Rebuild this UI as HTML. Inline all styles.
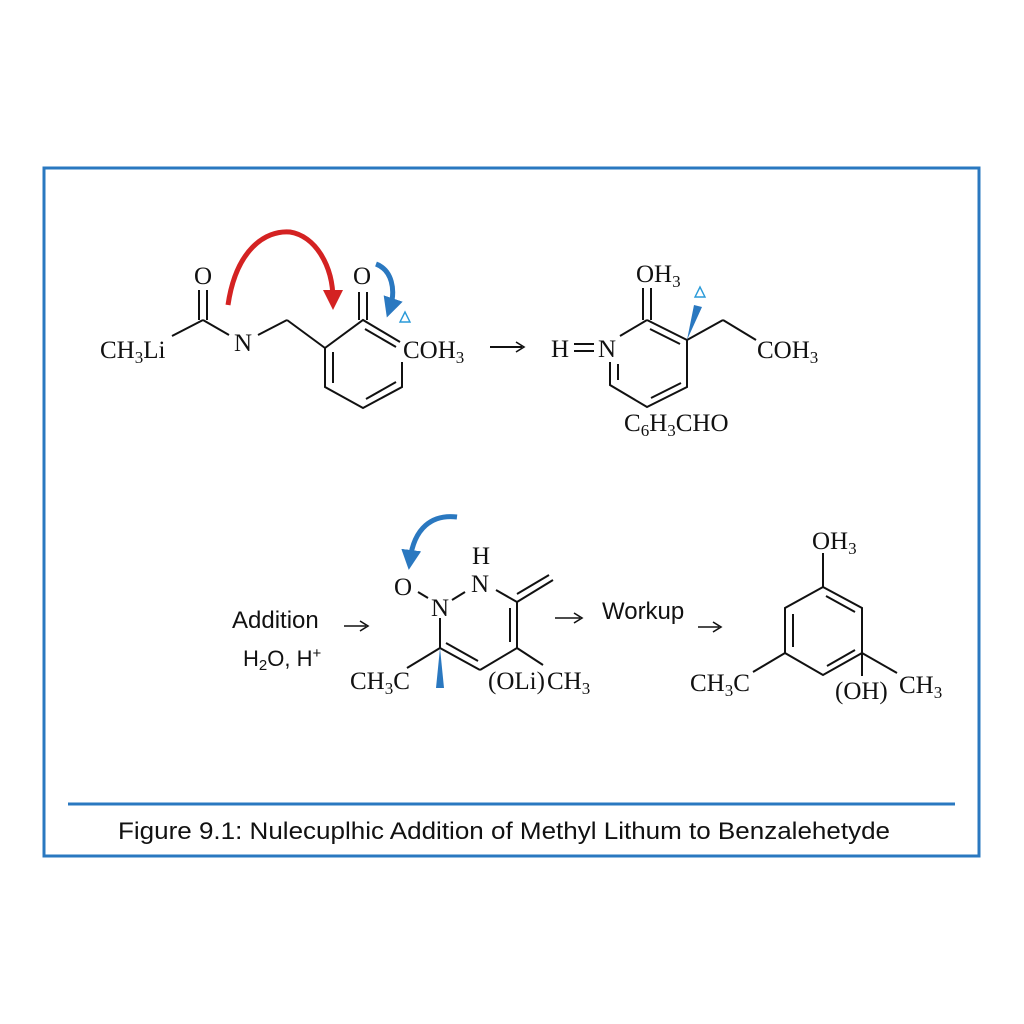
<!DOCTYPE html>
<html><head><meta charset="utf-8"><style>
html,body{margin:0;padding:0;background:#fff;}
svg{display:block}
.c{font-family:"Liberation Serif",serif;font-size:25px;fill:#111}
.s{font-size:17px}
.a{font-family:"Liberation Sans",sans-serif;font-size:24px;fill:#111}
</style></head><body>
<svg width="1024" height="1024" viewBox="0 0 1024 1024" xmlns="http://www.w3.org/2000/svg">
<defs>
<marker id="rh" viewBox="0 0 10 10" refX="5" refY="5" markerWidth="4" markerHeight="4" orient="auto"><path d="M0,0L10,5L0,10z" fill="#d42222"/></marker>
<marker id="bh" viewBox="0 0 10 10" refX="5" refY="5" markerWidth="4" markerHeight="4" orient="auto"><path d="M0,0L10,5L0,10z" fill="#2a78c0"/></marker>
</defs>
<rect x="44" y="168" width="935" height="688" fill="none" stroke="#2a78c0" stroke-width="3"/>
<line x1="68" y1="804" x2="955" y2="804" stroke="#2a78c0" stroke-width="3"/>
<text x="504" y="839" text-anchor="middle" class="a" style="font-size:24.5px" textLength="772" lengthAdjust="spacingAndGlyphs">Figure 9.1: Nulecuplhic Addition of Methyl Lithum to Benzalehetyde</text>

<g stroke="#111" stroke-width="2" fill="none">
<line x1="172" y1="336" x2="203" y2="320"/><line x1="199" y1="320" x2="199" y2="290"/><line x1="207" y1="320" x2="207" y2="290"/>
<line x1="203" y1="320" x2="229" y2="335"/><line x1="258" y1="335" x2="287" y2="320"/><line x1="287" y1="320" x2="325" y2="348"/>
<polyline points="402,362 402,387 363,408 325,387 325,348 363,320 400,342"/>
<line x1="333" y1="383" x2="333" y2="352"/><line x1="366" y1="399" x2="396" y2="382"/><line x1="365" y1="329" x2="396" y2="347"/>
<line x1="359" y1="320" x2="359" y2="292"/><line x1="367" y1="320" x2="367" y2="292"/>
<line x1="490" y1="347" x2="522" y2="347"/><path d="M516,342 L524,347 L516,352" stroke-width="1.6"/>
<line x1="574" y1="344" x2="594" y2="344"/><line x1="574" y1="351" x2="594" y2="351"/>
<line x1="620" y1="336" x2="647" y2="320"/><line x1="643" y1="320" x2="643" y2="288"/><line x1="651" y1="320" x2="651" y2="288"/>
<line x1="647" y1="320" x2="687" y2="340"/><line x1="650" y1="329" x2="680" y2="344"/>
<line x1="687" y1="340" x2="723" y2="320"/><line x1="723" y1="320" x2="756" y2="340"/>
<polyline points="687,340 687,387 647,407 610,385 610,362"/>
<line x1="618" y1="380" x2="618" y2="364"/><line x1="651" y1="398" x2="681" y2="383"/>
<line x1="344" y1="626" x2="366" y2="626" stroke-width="1.6"/><path d="M360,621 L368,626 L360,631" stroke-width="1.6"/>
<line x1="555" y1="618" x2="580" y2="618" stroke-width="1.6"/><path d="M574,613 L582,618 L574,623" stroke-width="1.6"/>
<line x1="698" y1="627" x2="719" y2="627" stroke-width="1.6"/><path d="M713,622 L721,627 L713,632" stroke-width="1.6"/>
<line x1="418" y1="592" x2="428" y2="598"/><line x1="452" y1="600" x2="465" y2="592"/>
<line x1="496" y1="590" x2="517" y2="602"/><line x1="517" y1="602" x2="553" y2="580"/><line x1="517" y1="594" x2="549" y2="575"/>
<line x1="517" y1="602" x2="517" y2="648"/><line x1="510" y1="608" x2="510" y2="642"/>
<line x1="517" y1="648" x2="543" y2="665"/><line x1="517" y1="648" x2="480" y2="670"/>
<line x1="480" y1="670" x2="440" y2="648"/><line x1="478" y1="661" x2="446" y2="643"/>
<line x1="440" y1="618" x2="440" y2="648"/><line x1="440" y1="648" x2="407" y2="668"/>
<line x1="823" y1="553" x2="823" y2="587"/>
<polygon points="823,587 862,608 862,653 823,675 785,653 785,608"/>
<line x1="826" y1="596" x2="855" y2="612"/><line x1="793" y1="614" x2="793" y2="647"/><line x1="827" y1="666" x2="855" y2="650"/>
<line x1="785" y1="653" x2="753" y2="672"/><line x1="862" y1="653" x2="897" y2="673"/><line x1="862" y1="653" x2="862" y2="676"/>
</g>
<path d="M228,305 C236,250 265,230 290,232 C315,236 333,265 333,300" fill="none" stroke="#d42222" stroke-width="5" marker-end="url(#rh)"/>
<path d="M376,264 C392,270 396,290 390,308" fill="none" stroke="#2a78c0" stroke-width="5" marker-end="url(#bh)"/>
<path d="M457,517 C432,514 414,528 410,560" fill="none" stroke="#2a78c0" stroke-width="5" marker-end="url(#bh)"/>
<polygon points="405,312 400,322 410,322" fill="none" stroke="#2a9ad8" stroke-width="1.4"/>
<polygon points="700,287 695,297 705,297" fill="none" stroke="#2a9ad8" stroke-width="1.4"/>
<polygon points="687,340 694,305 702,307" fill="#2a78c0"/>
<polygon points="440,648 436,688 444,688" fill="#2a78c0"/>
<text x="100" y="358" class="c">CH<tspan class="s" dy="5">3</tspan><tspan dy="-5">Li</tspan></text>
<text x="203" y="284" class="c" text-anchor="middle">O</text>
<text x="243" y="351" class="c" text-anchor="middle">N</text>
<text x="362" y="284" class="c" text-anchor="middle">O</text>
<text x="403" y="358" class="c">COH<tspan class="s" dy="5">3</tspan></text>
<text x="551" y="357" class="c">H</text>
<text x="607" y="357" class="c" text-anchor="middle">N</text>
<text x="636" y="282" class="c">OH<tspan class="s" dy="5">3</tspan></text>
<text x="757" y="358" class="c">COH<tspan class="s" dy="5">3</tspan></text>
<text x="624" y="431" class="c">C<tspan class="s" dy="5">6</tspan><tspan dy="-5">H</tspan><tspan class="s" dy="5">3</tspan><tspan dy="-5">CHO</tspan></text>
<text x="232" y="628" class="a">Addition</text>
<text x="243" y="666" class="a" style="font-size:22px">H<tspan style="font-size:15px" dy="4">2</tspan><tspan dy="-4">O, H</tspan><tspan style="font-size:15px" dy="-8">+</tspan></text>
<text x="602" y="619" class="a">Workup</text>
<text x="403" y="595" class="c" text-anchor="middle">O</text>
<text x="440" y="616" class="c" text-anchor="middle">N</text>
<text x="481" y="564" class="c" text-anchor="middle">H</text>
<text x="480" y="592" class="c" text-anchor="middle">N</text>
<text x="350" y="689" class="c">CH<tspan class="s" dy="5">3</tspan><tspan dy="-5">C</tspan></text>
<text x="488" y="689" class="c">(OLi)</text>
<text x="547" y="689" class="c">CH<tspan class="s" dy="5">3</tspan></text>
<text x="812" y="549" class="c">OH<tspan class="s" dy="5">3</tspan></text>
<text x="690" y="691" class="c">CH<tspan class="s" dy="5">3</tspan><tspan dy="-5">C</tspan></text>
<text x="835" y="699" class="c">(OH)</text>
<text x="899" y="693" class="c">CH<tspan class="s" dy="5">3</tspan></text>
</svg>
</body></html>
